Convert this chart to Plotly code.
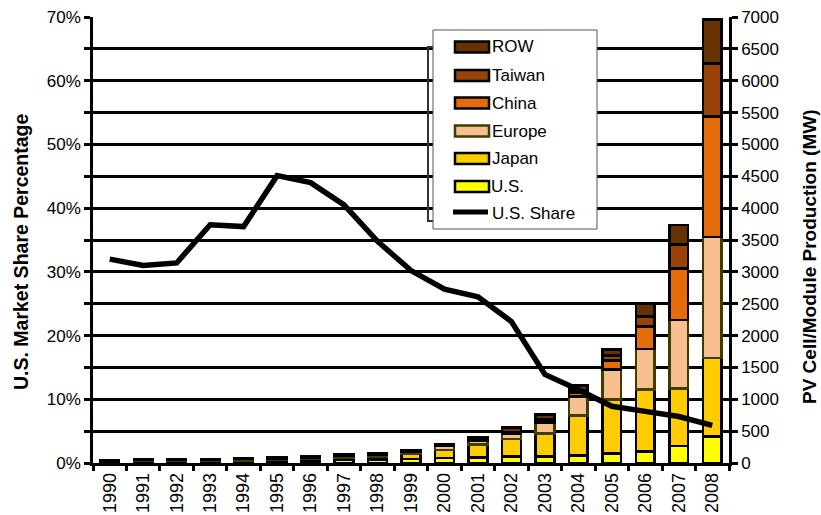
import plotly.graph_objects as go

# ---- data -------------------------------------------------------------
years = [str(y) for y in range(1990, 2009)]

# PV cell/module production by region (MW), stacked bottom -> top
us_mw     = [15, 17, 18, 23, 26, 35, 39, 51, 54, 60, 75, 90, 100, 105, 120, 146, 182, 263, 418]
japan_mw  = [17, 19, 19, 17, 17, 16, 21, 35, 49, 80, 129, 197, 274, 360, 622, 848, 968, 907, 1230]
europe_mw = [10, 14, 16, 17, 21, 20, 19, 30, 34, 40, 60, 68, 80, 172, 304, 471, 640, 1075, 1900]
china_mw  = [None, None, None, None, None, None, None, None, None, 2, 3, 5, 12, 20, 60, 141, 354, 805, 1890]
taiwan_mw = [None, None, None, None, None, None, None, None, None, 2, 3, 8, 12, 30, 40, 78, 158, 380, 830]
row_mw    = [4, 8, 9, 7, 6, 17, 21, 14, 20, 22, 28, 40, 77, 75, 68, 95, 198, 305, 690]

# U.S. share of world production
us_share = [0.320, 0.310, 0.314, 0.374, 0.371, 0.451, 0.440, 0.405, 0.348, 0.302,
            0.273, 0.261, 0.222, 0.139, 0.115, 0.089, 0.081, 0.073, 0.059]

series_names   = ["U.S.", "Japan", "Europe", "China", "Taiwan", "ROW"]
series_values  = [us_mw, japan_mw, europe_mw, china_mw, taiwan_mw, row_mw]
series_fill    = ["#ffff00", "#ffcc00", "#fabf8f", "#e46c0a", "#9a4309", "#663300"]
series_border  = ["#000000", "#000000", "#3d3d00", "#000000", "#000000", "#000000"]
share_name = "U.S. Share"

FONT = "Liberation Sans, Arial, Helvetica, sans-serif"

# ---- figure -----------------------------------------------------------
fig = go.Figure()

for name, vals, fill, border in zip(series_names, series_values, series_fill, series_border):
    fig.add_trace(go.Bar(
        x=years, y=vals, name=name, yaxis="y",
        marker=dict(color=fill, line=dict(color=border, width=2.5)),
        showlegend=False,
    ))

fig.add_trace(go.Scatter(
    x=years, y=us_share, name=share_name, yaxis="y2", mode="lines",
    line=dict(color="#000000", width=5.5), showlegend=False,
))

# plot-area geometry in pixels, used for placing the hand-made legend
L, R, T, B = 93, 92, 17, 52
W, H = 821, 515
pw, ph = W - L - R, H - T - B


def px_x(x):
    return (x - L) / pw


def px_y(y):
    return (H - B - y) / ph


shapes = []
annotations = []

# legend: back frame, then white box on top
shapes.append(dict(type="rect", xref="paper", yref="paper", layer="above",
                   x0=px_x(428), x1=px_x(560), y0=px_y(221), y1=px_y(47),
                   line=dict(color="#333333", width=2), fillcolor="rgba(0,0,0,0)"))
shapes.append(dict(type="rect", xref="paper", yref="paper", layer="above",
                   x0=px_x(433), x1=px_x(597), y0=px_y(229), y1=px_y(30),
                   line=dict(color="#555555", width=1), fillcolor="#ffffff"))

legend_rows = list(zip(series_names, series_fill, series_border))[::-1]
row_y = [47, 75.5, 103, 131, 158.5, 186.5]
for (name, fill, border), yc in zip(legend_rows, row_y):
    shapes.append(dict(type="rect", xref="paper", yref="paper", layer="above",
                       x0=px_x(455), x1=px_x(489), y0=px_y(yc + 5.5), y1=px_y(yc - 5.5),
                       line=dict(color=border, width=2.5), fillcolor=fill))
    annotations.append(dict(text=name, xref="paper", yref="paper", showarrow=False,
                            x=px_x(489.5), y=px_y(yc), xanchor="left", yanchor="middle",
                            font=dict(family=FONT, size=17, color="#000000")))
shapes.append(dict(type="line", xref="paper", yref="paper", layer="above",
                   x0=px_x(453), x1=px_x(488), y0=px_y(212), y1=px_y(212),
                   line=dict(color="#000000", width=5)))
annotations.append(dict(text=share_name, xref="paper", yref="paper", showarrow=False,
                        x=px_x(489.5), y=px_y(213.5), xanchor="left", yanchor="middle",
                        font=dict(family=FONT, size=17, color="#000000")))

# axis titles
annotations.append(dict(text="<b>U.S. Market Share Percentage</b>", textangle=-90,
                        xref="paper", yref="paper", showarrow=False,
                        x=0, xshift=-(L - 21), y=px_y(252), xanchor="center", yanchor="middle",
                        font=dict(family=FONT, size=19.5, color="#000000")))
annotations.append(dict(text="<b>PV Cell/Module Production (MW)</b>", textangle=-90,
                        xref="paper", yref="paper", showarrow=False,
                        x=1, xshift=(809 - (W - R)), y=px_y(257), xanchor="center", yanchor="middle",
                        font=dict(family=FONT, size=19, color="#000000")))

axis_common = dict(showline=True, linecolor="#000000", linewidth=2.5,
                   tickcolor="#000000", tickwidth=2.5, zeroline=False, automargin=False,
                   tickfont=dict(family=FONT, size=17, color="#000000"))

fig.update_layout(
    width=W, height=H,
    margin=dict(l=L, r=R, t=T, b=B, pad=0, autoexpand=False),
    paper_bgcolor="#ffffff", plot_bgcolor="#ffffff",
    barmode="stack", bargap=0.44,
    showlegend=False,
    font=dict(family=FONT, size=17, color="#000000"),
    xaxis=dict(type="category", tickangle=-90, ticks="outside", ticklen=5,
               tickson="boundaries", showgrid=False,
               **{**axis_common, "tickfont": dict(family=FONT, size=18, color="#000000")}),
    yaxis=dict(side="right", range=[0, 7000], dtick=500, ticks="outside", ticklen=6,
               showgrid=True, gridcolor="#000000", gridwidth=2.5, **axis_common),
    yaxis2=dict(side="left", overlaying="y", range=[0, 0.7], dtick=0.1, tickformat=".0%",
                ticks="outside", ticklen=6, showgrid=False,
                minor=dict(dtick=0.05, ticks="outside", ticklen=6, tickcolor="#000000",
                           tickwidth=2.5, showgrid=False),
                **axis_common),
    # inward halves of the crossing tick marks
    yaxis3=dict(side="left", overlaying="y", range=[0, 0.7], dtick=0.05, ticks="inside",
                ticklen=5, tickcolor="#000000", tickwidth=2.5, showticklabels=False,
                showgrid=False, showline=False, zeroline=False, automargin=False),
    yaxis4=dict(side="right", overlaying="y", range=[0, 7000], dtick=500, ticks="inside",
                ticklen=5, tickcolor="#000000", tickwidth=2.5, showticklabels=False,
                showgrid=False, showline=False, zeroline=False, automargin=False),
    shapes=shapes,
    annotations=annotations,
)

fig.write_html("out.html")
